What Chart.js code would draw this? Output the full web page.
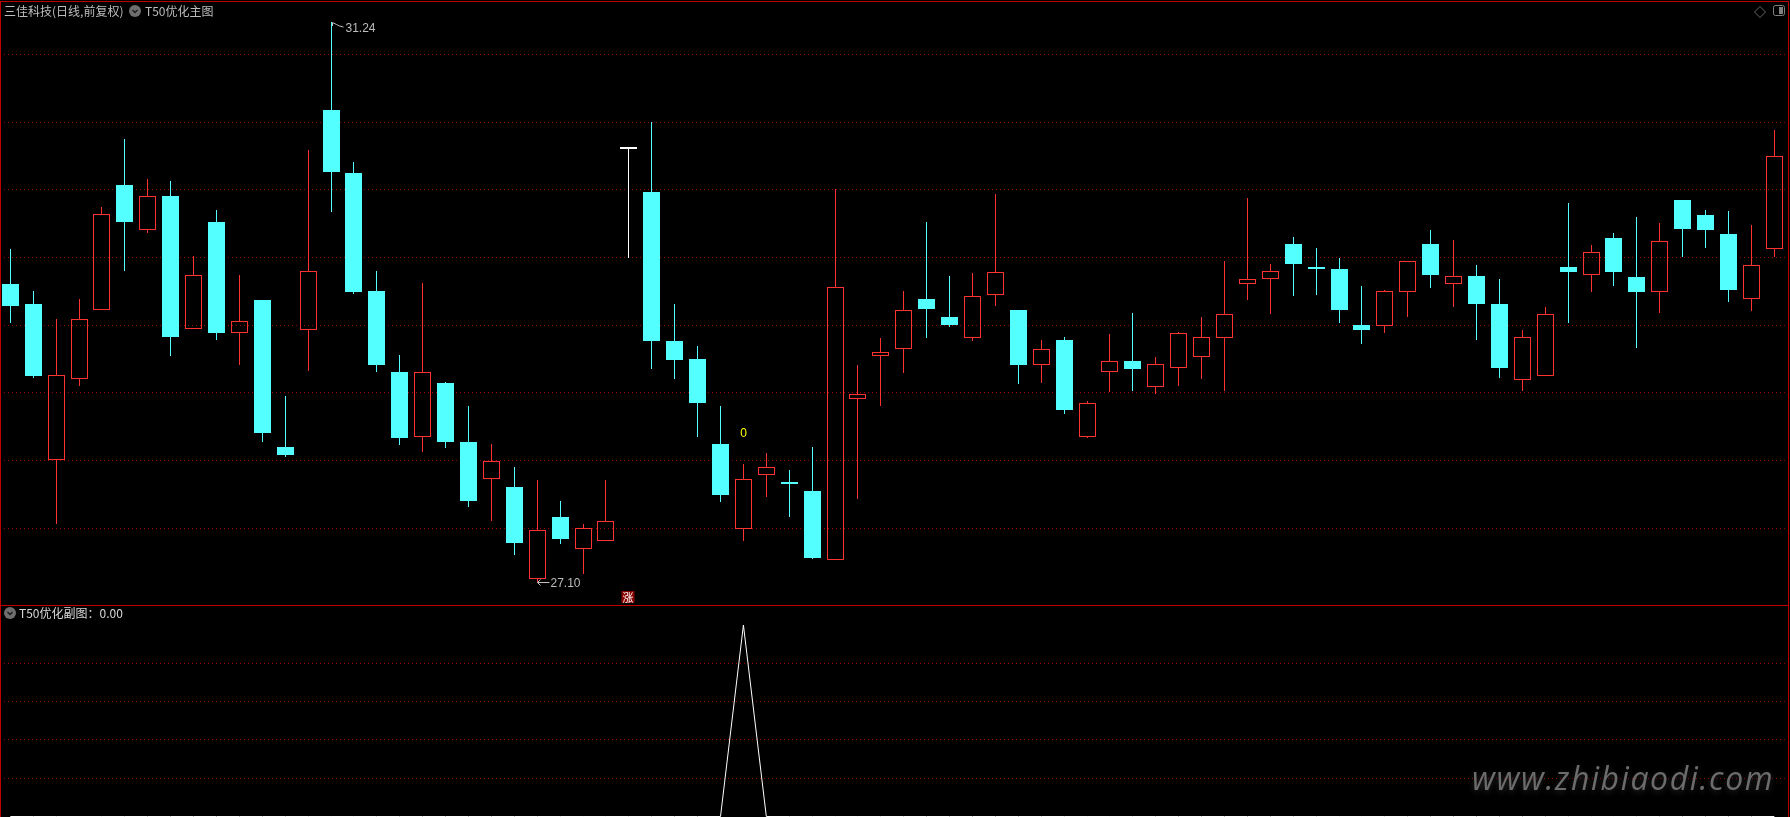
<!DOCTYPE html>
<html>
<head>
<meta charset="utf-8">
<title>T50优化</title>
<script src="https://cdn.jsdelivr.net/npm/chart.js@4"></script>
<style>
  html, body { margin: 0; background: #000; overflow: hidden; }
  #page { position: relative; width: 1790px; height: 817px; background: #000; overflow: hidden; }
  canvas { position: absolute; left: 0; }
  #mainChart { top: 0; }
  #subChart { top: 605px; }
  .rule { position: absolute; background: #c00000; }
  .txt { position: absolute; font: 12px/16px "Noto Sans CJK SC", sans-serif; color: #bdbdbd; white-space: pre; }
  .ico { position: absolute; }
  #mark { position: absolute; left: 1472px; top: 756px; font: italic 500 32px/44px "Open Sans", sans-serif; letter-spacing: 1.6px;
          color: #6c6c6c; text-shadow: 0 2px 6px #2a2a2a; white-space: pre; }
</style>
</head>
<body>
<div id="page">
  <canvas id="mainChart" width="1790" height="605"></canvas>
  <canvas id="subChart" width="1790" height="212"></canvas>
  <div class="rule" style="left:0;top:1px;width:1789px;height:1px"></div>
  <div class="rule" style="left:0;top:605px;width:1789px;height:1px"></div>
  <div class="rule" style="left:0;top:1px;width:1px;height:816px"></div>
  <div class="rule" style="left:1788px;top:1px;width:1px;height:816px"></div>
  <div class="txt" style="left:4px;top:3px">三佳科技(日线,前复权)</div>
  <svg class="ico" style="left:129px;top:5px" width="12" height="12"><circle cx="6" cy="6" r="6" fill="#6e6e6e"/><path d="M3.5 5 L6 7.5 L8.5 5" fill="none" stroke="#1a1a1a" stroke-width="1.3"/></svg>
  <div class="txt" style="left:145px;top:3px">T50优化主图</div>
  <svg class="ico" style="left:1754px;top:6px" width="12" height="12"><path d="M6 .5 L11.5 6 L6 11.5 L.5 6 Z" fill="none" stroke="#666"/></svg>
  <svg class="ico" style="left:1773px;top:5px" width="12" height="12"><rect x=".5" y=".5" width="11" height="10" rx="2" fill="none" stroke="#808080"/><rect x="6" y="2" width="4" height="7" fill="#808080"/></svg>
  <svg class="ico" style="left:4px;top:607px" width="12" height="12"><circle cx="6" cy="6" r="6" fill="#6e6e6e"/><path d="M3.5 5 L6 7.5 L8.5 5" fill="none" stroke="#1a1a1a" stroke-width="1.3"/></svg>
  <div class="txt" style="left:19px;top:605px;color:#d8d8d8">T50优化副图：0.00</div>
  <div id="mark">www.zhibiaodi.com</div>
</div>
<script>
// daily bars
const opens = [29.30,29.15,28.00,28.60,29.11,30.03,29.70,29.95,28.97,29.76,28.94,29.18,28.10,28.96,30.59,30.12,29.25,28.65,28.17,28.57,
  28.13,27.86,27.80,27.12,27.58,27.34,27.40,30.30,29.98,28.88,28.75,28.12,27.49,27.89,27.84,27.77,27.26,28.45,28.77,28.82,
  29.19,29.06,28.90,29.22,29.11,28.70,28.89,28.17,28.65,28.73,28.54,28.68,28.76,28.90,29.30,29.34,29.60,29.43,29.41,29.00,
  28.99,29.24,29.60,29.30,29.36,29.15,28.59,28.62,29.43,29.37,29.64,29.35,29.24,29.92,29.81,29.67,29.19,29.56];
const closes = [29.14,28.62,28.63,29.04,29.82,29.76,29.95,28.91,29.37,28.94,29.03,28.20,28.04,29.40,30.13,29.24,28.70,28.16,28.65,28.13,
  27.70,27.99,27.39,27.48,27.42,27.50,27.55,30.30,28.88,28.74,28.42,27.74,27.86,27.95,27.82,27.28,29.28,28.49,28.80,29.11,
  29.12,29.00,29.21,29.39,28.70,28.82,28.37,28.42,28.73,28.67,28.71,28.94,28.91,29.08,29.34,29.40,29.45,29.41,29.11,28.96,
  29.25,29.47,29.37,29.36,29.15,28.68,28.91,29.08,29.39,29.54,29.39,29.24,29.62,29.71,29.70,29.26,29.44,30.25];
const highs = [29.56,29.25,29.04,29.19,29.87,30.37,30.08,30.06,29.51,29.85,29.37,29.18,28.47,30.29,31.24,30.20,29.40,28.78,29.31,28.58,
  28.40,28.12,27.95,27.85,27.70,27.53,27.85,30.30,30.50,29.15,28.84,28.40,27.97,28.05,27.93,28.10,30.00,28.70,28.90,29.25,
  29.76,29.36,29.38,29.97,29.11,28.89,28.91,28.44,28.93,29.09,28.76,28.95,29.06,29.47,29.94,29.45,29.65,29.57,29.49,29.29,
  29.26,29.47,29.70,29.63,29.44,29.34,28.96,29.13,29.90,29.59,29.68,29.80,29.75,29.92,29.85,29.84,29.74,30.44];
const lows = [29.01,28.61,27.53,28.55,29.11,29.40,29.68,28.77,28.97,28.89,28.70,28.13,28.02,28.66,29.83,29.23,28.65,28.11,28.06,28.09,
  27.65,27.55,27.30,27.10,27.38,27.16,27.40,29.49,28.67,28.60,28.17,27.69,27.40,27.73,27.58,27.27,27.26,27.71,28.40,28.64,
  28.90,28.98,28.88,29.14,28.56,28.57,28.34,28.16,28.50,28.51,28.49,28.55,28.60,28.51,29.18,29.08,29.21,29.22,29.01,28.86,
  28.94,29.06,29.27,29.13,28.89,28.61,28.51,28.62,29.01,29.24,29.29,28.83,29.09,29.50,29.57,29.17,29.10,29.50];
// sub pane indicator, one value per bar
const signal = [0,0,0,0,0,0,0,0,0,0,0,0,0,0,0,0,0,0,0,0,0,0,0,0,0,0,0,0,0,0,0,0,1,0,0,0,0,0,0,0,
  0,0,0,0,0,0,0,0,0,0,0,0,0,0,0,0,0,0,0,0,0,0,0,0,0,0,0,0,0,0,0,0,0,0,0,0,0,0];
const priceTicks = [27.5, 28, 28.5, 29, 29.5, 30, 30.5, 31];
const signalTicks = [0.2, 0.4, 0.6, 0.8];
const zeroMark = { index: 32, price: 28.19, text: '0' };
const riseMark = { index: 27, price: 26.99, text: '涨' };

const RED = '#ff3232', CYAN = '#54ffff', WHITE = '#ffffff';
const GRID = '#a00000';
const TEXT = '#bdbdbd';

// candle edges land on whole pixels in the main pane, like the terminal draws them
const LinearScale = Chart.registry.getScale('linear');
const basePixel = LinearScale.prototype.getPixelForValue;
LinearScale.prototype.getPixelForValue = function (v) {
  const px = basePixel.call(this, v);
  if (this.chart.canvas.id !== 'mainChart') return px;
  return this.isHorizontal() ? Math.floor(px) + 0.5 : Math.round(px);
};

const candleColors = opens.map((o, i) => closes[i] > o ? RED : closes[i] < o ? CYAN : WHITE);
const bodyFill = candleColors.map(c => c === RED ? 'transparent' : c);

const bodies = opens.map((o, i) => ({ x: i, y: [o, closes[i]] }));
const upperWicks = opens.map((o, i) => ({ x: i, y: [Math.max(o, closes[i]), highs[i]] }));
const lowerWicks = opens.map((o, i) => ({ x: i, y: [lows[i], Math.min(o, closes[i])] }));

const wickStyle = {
  backgroundColor: candleColors,
  borderWidth: 0,
  barThickness: 1,
  grouped: false,
  inflateAmount: 0
};

function gridOf(ticks) {
  return {
    afterBuildTicks: axis => { axis.ticks = ticks.map(v => ({ value: v })); },
    ticks: { display: false },
    grid: { color: GRID, lineWidth: 1, drawTicks: false },
    border: { display: false, dash: [1, 3] }
  };
}

const xAxis = { type: 'linear', display: false, offset: false, min: -0.4496, max: 77.683 };

// price labels and the little signal marks that sit on the main pane
const markers = {
  id: 'markers',
  afterDatasetsDraw(chart) {
    const { ctx, scales: { x, y } } = chart;
    const top = highs.indexOf(Math.max(...highs));
    const bottom = lows.indexOf(Math.min(...lows));
    ctx.save();
    ctx.font = '12px "Liberation Sans", sans-serif';
    ctx.textBaseline = 'middle';
    ctx.strokeStyle = TEXT;
    ctx.fillStyle = TEXT;
    ctx.lineWidth = 1;

    let px = x.getPixelForValue(top), py = y.getPixelForValue(highs[top]);
    ctx.beginPath();
    ctx.moveTo(px + 1, py + 0.5); ctx.lineTo(px + 1, py + 4);
    ctx.moveTo(px + 1, py + 0.5); ctx.lineTo(px + 5, py + 2.5);
    ctx.lineTo(px + 8, py + 4); ctx.lineTo(px + 12, py + 5);
    ctx.stroke();
    ctx.fillText(highs[top].toFixed(2), px + 14, py + 6.5);

    px = x.getPixelForValue(bottom); py = y.getPixelForValue(lows[bottom]);
    ctx.beginPath();
    ctx.moveTo(px, py + 0.5); ctx.lineTo(px + 12, py + 0.5);
    ctx.moveTo(px + 3, py - 2.5); ctx.lineTo(px, py + 0.5); ctx.lineTo(px + 3, py + 3.5);
    ctx.stroke();
    ctx.fillText(lows[bottom].toFixed(2), px + 13, py + 1.5);

    ctx.textAlign = 'center';
    ctx.fillStyle = '#ffff00';
    ctx.fillText(zeroMark.text, x.getPixelForValue(zeroMark.index), y.getPixelForValue(zeroMark.price));

    px = x.getPixelForValue(riseMark.index); py = y.getPixelForValue(riseMark.price);
    ctx.fillStyle = '#8a0000';
    ctx.fillRect(px - 7, py - 6, 13, 12);
    ctx.fillStyle = WHITE;
    ctx.font = '11px "Noto Sans CJK SC", sans-serif';
    ctx.fillText(riseMark.text, px - 0.5, py + 0.5);
    ctx.restore();
  }
};

const mainChart = new Chart(document.getElementById('mainChart'), {
  type: 'bar',
  data: {
    datasets: [
      { label: 'upper', data: upperWicks, ...wickStyle },
      { label: 'lower', data: lowerWicks, ...wickStyle },
      {
        label: 'body',
        data: bodies,
        backgroundColor: bodyFill,
        borderColor: candleColors,
        borderWidth: 1,
        borderSkipped: false,
        barThickness: 17,
        minBarLength: 2,
        grouped: false,
        inflateAmount: 0
      }
    ]
  },
  options: {
    responsive: false,
    animation: false,
    events: [],
    layout: { padding: 0 },
    plugins: { legend: { display: false }, tooltip: { enabled: false } },
    scales: {
      x: xAxis,
      y: { type: 'linear', min: 26.929, max: 31.40, ...gridOf(priceTicks) }
    }
  },
  plugins: [markers]
});

const subChart = new Chart(document.getElementById('subChart'), {
  type: 'line',
  data: {
    datasets: [{
      label: 'T50优化副图',
      data: signal.map((v, i) => ({ x: i, y: v })),
      borderColor: WHITE,
      borderWidth: 1,
      pointRadius: 0,
      tension: 0
    }]
  },
  options: {
    responsive: false,
    animation: false,
    events: [],
    layout: { padding: 0 },
    plugins: { legend: { display: false }, tooltip: { enabled: false } },
    scales: {
      x: xAxis,
      y: { type: 'linear', min: -0.00261, max: 1.10444, ...gridOf(signalTicks) }
    }
  }
});
</script>
</body>
</html>
